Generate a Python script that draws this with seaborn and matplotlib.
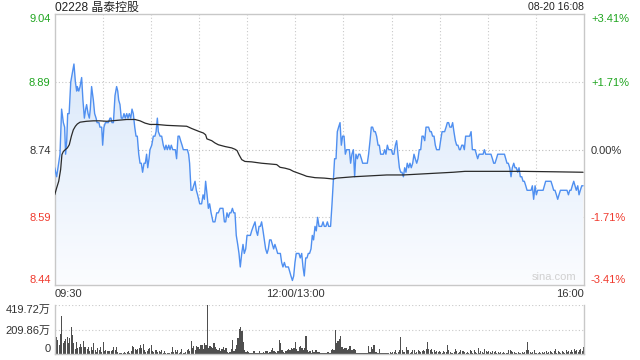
import numpy as np
import pandas as pd
import matplotlib
matplotlib.use("Agg")
import matplotlib.pyplot as plt
import seaborn as sns
from matplotlib.patches import PathPatch

# ---------------- data ----------------
title = "02228 晶泰控股"
stamp = "08-20 16:08"
prev_close = 8.74
price_ticks = [8.44, 8.59, 8.74, 8.89, 9.04]
pct_labels = ["-3.41%", "-1.71%", "0.00%", "+1.71%", "+3.41%"]
vol_ticks = [0, 209.86, 419.72]
vol_labels = ["0", "209.86万", "419.72万"]
time_labels = ["09:30", "12:00/13:00", "16:00"]
time_label_pos = [0, 150, 330]

price_min = [
    0.0, 1.2, 2.5, 3.3, 4.3, 5.4, 6.2, 6.8, 7.5, 8.1, 9.0, 10.0, 11.0, 12.0, 12.9, 13.7, 14.1, 15.0, 15.8, 16.8,
    17.6, 18.5, 19.3, 19.9, 20.8, 21.6, 22.2, 23.0, 24.1, 24.9, 25.8, 26.4, 27.0, 27.6, 28.2, 29.3, 29.9, 30.7,
    31.6, 32.4, 33.4, 34.5, 35.1, 35.7, 36.6, 37.6, 38.6, 39.3, 39.9, 40.7, 41.5, 42.4, 43.2, 44.0, 44.9, 45.7,
    46.5, 47.4, 48.2, 49.0, 49.9, 50.7, 51.5, 52.4, 53.2, 54.0, 54.8, 55.7, 56.5, 57.3, 58.0, 58.8, 59.4, 60.5,
    61.5, 62.5, 63.2, 64.0, 64.6, 65.7, 66.7, 67.7, 68.6, 69.4, 70.2, 71.1, 71.9, 72.7, 73.6, 74.4, 75.2, 76.0,
    76.9, 77.7, 78.5, 79.4, 80.2, 81.0, 81.9, 82.7, 83.5, 84.1,
    85.0, 85.8, 86.6, 87.5, 88.3, 89.1, 90.4, 91.6, 92.5, 93.3, 94.1, 95.0, 95.8, 96.6, 97.5, 98.7, 99.9, 101.0,
    102.0, 103.1, 104.1, 104.9, 105.8, 106.6, 107.4, 108.3, 109.1, 109.9, 110.8, 111.6, 112.4, 113.2, 114.1,
    114.9, 115.7, 116.6, 117.4, 118.2, 119.1, 119.9, 120.7, 122.0, 122.8, 123.8, 124.9, 125.7, 126.5, 127.4,
    128.2, 129.0, 129.9, 130.7, 131.5, 132.4, 133.2, 134.0, 134.9, 135.7, 136.5, 137.3, 138.2, 139.0, 139.8,
    140.7, 141.5, 142.3, 143.2, 144.0, 144.8, 145.7, 146.5, 147.3, 148.2, 149.0, 149.8, 150.6, 151.5, 152.3,
    153.1, 154.0, 154.8, 155.6, 156.5, 157.3, 158.1, 158.9, 159.8, 160.6, 161.4, 162.3, 163.1, 163.9, 164.8,
    165.6, 166.4, 167.3, 168.1,
    169.1, 170.0, 170.8, 172.0, 172.9, 173.7, 174.5, 175.4, 176.2, 177.0, 177.9, 178.7, 179.5, 180.4, 181.2,
    182.0, 182.9, 183.7, 184.5, 185.3, 186.2, 187.0, 187.8, 188.7, 189.5, 190.3, 191.2, 192.0, 193.7, 194.9,
    195.7, 196.6, 197.4, 198.2, 199.1, 199.9, 200.7, 201.6, 202.4, 203.2, 204.1, 204.9, 205.7, 206.5, 207.4,
    208.2, 209.0, 209.9, 210.7, 211.5, 212.4, 213.2, 214.0, 214.9, 215.7, 216.5, 217.4, 218.2, 219.0, 219.8,
    220.7, 221.5, 222.3, 223.2, 224.0, 224.8, 225.7, 226.5, 227.3, 228.2, 229.0, 229.8, 230.7, 231.5, 232.3,
    233.1, 234.0, 234.8, 235.6, 236.5, 237.3, 238.1, 239.0, 239.8, 240.6, 241.5, 242.3, 243.1, 244.0, 244.8,
    245.6, 246.4, 247.3, 248.1, 248.9, 249.8, 250.6, 251.4, 252.3,
    252.9, 253.8, 254.6, 255.4, 256.2, 257.1, 257.9, 258.7, 259.6, 260.4, 261.2, 262.1, 262.9, 263.7, 264.6,
    265.4, 266.2, 267.1, 267.9, 268.7, 269.5, 270.4, 271.2, 272.0, 272.9, 273.7, 274.5, 275.4, 276.2, 277.0,
    277.9, 278.7, 279.5, 280.4, 281.2, 282.0, 282.8, 283.7, 284.5, 285.3, 286.2, 287.0, 287.8, 288.7, 289.5,
    290.3, 291.2, 292.0, 292.8, 293.7, 294.5, 295.3, 296.1, 297.0, 297.8, 298.6, 299.5, 300.3, 301.1, 302.0,
    302.8, 303.6, 304.5, 305.3, 306.1, 307.0, 307.8, 308.6, 309.4, 310.3, 311.1, 311.9, 312.8, 313.6, 314.4,
    315.3, 316.1, 316.9, 317.8, 318.6, 319.4, 320.3, 321.1, 321.9, 322.7, 323.6, 324.4, 325.2, 326.1, 326.9,
    327.7, 328.6, 329.4,
]
price_val = [
    8.70, 8.68, 8.71, 8.73, 8.83, 8.80, 8.79, 8.73, 8.76, 8.82, 8.82, 8.89, 8.91, 8.93, 8.89, 8.87, 8.88, 8.87, 8.88, 8.90,
    8.85, 8.81, 8.83, 8.84, 8.82, 8.81, 8.83, 8.88, 8.85, 8.82, 8.81, 8.80, 8.80, 8.80, 8.79, 8.79, 8.75, 8.79,
    8.80, 8.80, 8.80, 8.81, 8.81, 8.80, 8.80, 8.86, 8.88, 8.87, 8.85, 8.84, 8.81, 8.81, 8.82, 8.81, 8.82, 8.81,
    8.82, 8.81, 8.83, 8.82, 8.79, 8.77, 8.77, 8.73, 8.71, 8.71, 8.69, 8.71, 8.71, 8.73, 8.70, 8.72, 8.74, 8.75,
    8.77, 8.77, 8.78, 8.81, 8.78, 8.77, 8.77, 8.75, 8.74, 8.75, 8.74, 8.75, 8.74, 8.75, 8.74, 8.74, 8.74, 8.72,
    8.77, 8.77, 8.76, 8.75, 8.74, 8.74, 8.74, 8.74, 8.73, 8.71,
    8.65, 8.65, 8.66, 8.67, 8.65, 8.64, 8.62, 8.62, 8.64, 8.63, 8.67, 8.64, 8.61, 8.62, 8.60, 8.58, 8.58, 8.60,
    8.60, 8.61, 8.61, 8.61, 8.58, 8.58, 8.60, 8.59, 8.60, 8.60, 8.61, 8.60, 8.60, 8.55, 8.53,
    8.51, 8.48, 8.51, 8.53, 8.51, 8.52, 8.55, 8.55, 8.55, 8.56, 8.57, 8.58, 8.56, 8.55, 8.57,
    8.57, 8.58, 8.56, 8.54, 8.52, 8.51, 8.52, 8.54, 8.54, 8.53, 8.52, 8.53, 8.52, 8.51, 8.51,
    8.51, 8.49, 8.48, 8.49, 8.48, 8.48, 8.48, 8.47, 8.46, 8.45, 8.46, 8.49, 8.51, 8.51, 8.51,
    8.50, 8.51, 8.48, 8.46, 8.50, 8.50, 8.51, 8.51, 8.52, 8.55, 8.54, 8.57, 8.56, 8.59, 8.57,
    8.57, 8.57, 8.58, 8.57,
    8.57, 8.58, 8.57, 8.57, 8.62, 8.67, 8.72, 8.72, 8.78, 8.79, 8.80, 8.75, 8.77, 8.77, 8.73,
    8.74, 8.74, 8.74, 8.71, 8.73, 8.74, 8.68, 8.73, 8.72, 8.73, 8.73, 8.72, 8.71, 8.71, 8.71,
    8.73, 8.76, 8.79, 8.79, 8.78, 8.78, 8.77, 8.75, 8.75, 8.73, 8.73, 8.73, 8.74, 8.73, 8.75,
    8.74, 8.74, 8.74, 8.73, 8.73, 8.75, 8.76, 8.73, 8.70, 8.69, 8.69, 8.68, 8.70, 8.69, 8.71,
    8.70, 8.71, 8.70, 8.71, 8.73, 8.72, 8.71, 8.72, 8.74, 8.74, 8.77, 8.77, 8.76, 8.79, 8.79,
    8.79, 8.78, 8.78, 8.77, 8.77, 8.75, 8.74, 8.74, 8.74, 8.76, 8.78, 8.78, 8.78, 8.79, 8.80,
    8.80, 8.79, 8.79, 8.80, 8.78, 8.76, 8.75, 8.75, 8.74,
    8.74, 8.75, 8.75, 8.74, 8.77, 8.77, 8.77, 8.77, 8.78, 8.74, 8.74, 8.74, 8.73, 8.72, 8.73,
    8.73, 8.73, 8.73, 8.74, 8.73, 8.73, 8.73, 8.73, 8.73, 8.72, 8.71, 8.71, 8.72, 8.73, 8.73,
    8.73, 8.73, 8.73, 8.73, 8.72, 8.71, 8.71, 8.70, 8.68, 8.70, 8.71, 8.70, 8.70, 8.69, 8.70,
    8.68, 8.68, 8.67, 8.67, 8.66, 8.65, 8.65, 8.65, 8.65, 8.66, 8.63, 8.66, 8.64, 8.65, 8.65,
    8.65, 8.65, 8.65, 8.66, 8.67, 8.67, 8.67, 8.67, 8.67, 8.66, 8.65, 8.65, 8.64, 8.63, 8.64,
    8.65, 8.65, 8.65, 8.65, 8.65, 8.65, 8.64, 8.65, 8.65, 8.66, 8.67, 8.66, 8.65, 8.66, 8.64,
    8.65, 8.66, 8.66,
]

avg_min = [0.0, 1.2, 2.5, 3.7, 4.5, 5.4, 6.6, 7.9, 9.1, 10.4, 11.6, 12.9, 14.1, 15.8, 17.8, 19.9, 24.1, 28.2,
           32.4, 38.6, 44.9, 50.1, 53.2, 56.3, 59.4, 63.6, 69.8, 76.0, 82.3, 85.4, 89.6, 92.7, 94.1, 94.9,
           97.9, 99.9, 102.0, 106.2, 110.3, 112.4, 113.7, 114.9, 116.6, 118.6, 122.8, 129.0, 135.3, 138.4,
           140.5, 143.6, 146.7, 148.8, 151.9, 155.0, 157.1, 162.3, 168.1, 173.7, 175.8, 186.2, 196.6, 207.0,
           217.4, 227.7, 238.1, 248.5, 255.8, 270.4, 291.2, 311.9, 329.4]
avg_val = [8.640, 8.655, 8.670, 8.696, 8.729, 8.736, 8.740, 8.744, 8.751, 8.770, 8.784, 8.792, 8.797, 8.801,
           8.802, 8.803, 8.804, 8.804, 8.803, 8.805, 8.807, 8.807, 8.804, 8.799, 8.796, 8.796, 8.794, 8.793,
           8.792, 8.787, 8.781, 8.777, 8.773, 8.764, 8.760, 8.755, 8.751, 8.747, 8.744, 8.741, 8.738, 8.729,
           8.718, 8.714, 8.713, 8.710, 8.708, 8.707, 8.701, 8.699, 8.696, 8.692, 8.688, 8.684, 8.681, 8.678,
           8.677, 8.675, 8.677, 8.680, 8.682, 8.684, 8.684, 8.686, 8.688, 8.690, 8.692, 8.692, 8.692, 8.691,
           8.690]

# volume in 万 shares, bars from 09:30 to 16:00
volume = [
    248, 143, 120, 77, 171, 325, 97, 114, 131, 143, 97, 134, 228, 166, 97, 40, 103, 49, 63, 86,
    63, 108, 63, 57, 40, 63, 29, 57, 34, 91, 34, 17, 49, 34, 63, 20, 103, 29, 34, 29,
    29, 29, 29, 34, 63, 34, 63, 20, 11, 11, 11, 11, 20, 11, 20, 29, 11, 29, 69, 63,
    40, 34, 40, 49, 74, 49, 86, 34, 20, 29, 40, 49, 77, 29, 20, 34, 34, 20, 29, 20,
    34, 11, 29, 11, 11, 11, 11, 20, 63, 20, 34, 20, 34, 11, 20, 40, 11, 11, 20, 34,
    40, 29, 114, 49, 69, 34, 69, 63, 40, 77, 77, 40, 97, 77, 420, 49, 69, 57, 49, 91,
    63, 40, 34, 49, 29, 40, 63, 34, 49, 20, 11, 20, 40, 120, 29, 40, 77, 134, 211, 228,
    200, 106, 34, 17, 29, 20, 11, 11, 11, 29, 11, 11, 11, 29, 11, 11, 20, 11, 29, 29,
    11, 20, 34, 49, 29, 20, 11, 29, 120, 97, 34, 20, 11, 29, 34, 40, 34, 49, 40, 49,
    106, 40, 29, 63, 69, 49, 34, 49, 154, 34, 20, 29, 11, 34, 20, 34, 34, 20,
    20, 11, 6, 6, 11, 11, 20, 20, 6, 34, 40, 34, 206, 97, 114, 126, 154, 63, 40, 49,
    49, 34, 40, 69, 34, 34, 40, 34, 11, 11, 6, 11, 11, 6, 11, 11, 6, 69, 20, 57,
    40, 77, 20, 20, 11, 40, 11, 11, 6, 11, 11, 11, 11, 20, 11, 20, 20, 34, 11, 20,
    34, 148, 34, 20, 20, 63, 34, 34, 11, 20, 34, 34, 11, 20, 34, 29, 20, 29, 34, 29,
    40, 106, 40, 34, 40, 20, 34, 20, 29, 20, 29, 20, 11, 29, 20, 20, 77, 34, 20, 11,
    11, 20, 40, 29, 11, 20, 34, 29, 29, 20, 11, 20, 11, 34, 29, 11, 34, 20, 11, 49,
    11, 29, 20, 11, 40, 29, 20, 29, 20, 11, 29, 20, 29, 11, 20, 11, 20, 11, 20, 11,
    6, 11, 34, 34, 29, 20, 20, 11, 11, 20, 11, 11, 20, 11, 20, 34, 106, 34, 20, 11,
    20, 34, 6, 11, 6, 20, 11, 20, 11, 20, 29, 11, 20, 29, 20, 11, 29, 40, 11, 29,
    20, 11, 29, 20, 11, 34, 20, 29, 20, 34, 20, 40, 29, 34, 20, 34, 40, 29, 63,
]

# ---------------- style ----------------
sns.set_theme(style="white")
plt.rcParams["font.family"] = ["Liberation Sans", "Noto Sans CJK SC", "DejaVu Sans"]

GREEN = "#1fa51f"
RED = "#f03a2e"
DARK = "#333333"
GRID = "#c9c9c9"
SPINE = "#c8c8c8"
BLUE = "#4f8ff0"

fig = plt.figure(figsize=(6.4, 3.6), dpi=100)
ax = fig.add_axes([54.7 / 640, 75 / 360, 529.3 / 640, 270.6 / 360])
axv = fig.add_axes([54.7 / 640, 6 / 360, 529.3 / 640, 49 / 360])

ymin, ymax = price_ticks[0], price_ticks[-1]
ax.set_xlim(0, 330)
ax.set_ylim(ymin, ymax)

dfp = pd.DataFrame({"minute": price_min, "price": price_val})
dfa = pd.DataFrame({"minute": avg_min, "avg": avg_val})
dfv = pd.DataFrame({"minute": np.linspace(0.3, 329.7, len(volume)), "volume": volume})

# gradient fill below price line
poly = ax.fill_between(dfp["minute"], dfp["price"], ymin, color="none", lw=0)
path = poly.get_paths()[0]
patch = PathPatch(path, transform=ax.transData, facecolor="none", edgecolor="none")
ax.add_patch(patch)
top_c = np.array([0.855, 0.91, 0.98])
bot_c = np.array([0.985, 0.99, 1.0])
t = np.linspace(0, 1, 256)[:, None]
grad = (top_c * (1 - t) + bot_c * t)[:, None, :]
im = ax.imshow(grad, extent=[0, 330, ymin, 8.94], aspect="auto", origin="upper", zorder=1)
im.set_clip_path(patch)

sns.lineplot(data=dfp, x="minute", y="price", ax=ax, color=BLUE, lw=1.0,
             estimator=None, sort=False, zorder=3)
sns.lineplot(data=dfa, x="minute", y="avg", ax=ax, color="#2a2a2a", lw=0.9,
             estimator=None, sort=False, zorder=4)
ax.set_xlim(0, 330)
ax.set_ylim(ymin, ymax)
ax.set_xlabel("")
ax.set_ylabel("")

# grid
dot = (0, (1, 2))
for xv in range(30, 330, 30):
    ax.axvline(xv, color=GRID, lw=0.8, ls=dot, zorder=0.5)
for yv in price_ticks[1:-1]:
    ax.axhline(yv, color=GRID if yv != prev_close else "#bdbdbd", lw=0.8, ls=dot, zorder=0.5)

for s in ax.spines.values():
    s.set_color(SPINE)
    s.set_linewidth(1)

ax.set_yticks(price_ticks)
ax.set_yticklabels([f"{v:.2f}" for v in price_ticks])
colors = [RED, RED, DARK, GREEN, GREEN]
for lbl, c in zip(ax.get_yticklabels(), colors):
    lbl.set_color(c)
labels = ax.get_yticklabels()
labels[0].set_va("bottom")
labels[-1].set_va("top")
ax.tick_params(axis="y", length=0, pad=3, labelsize=8)

ax.set_xticks(time_label_pos)
ax.set_xticklabels(time_labels)
xl = ax.get_xticklabels()
xl[0].set_ha("left")
xl[-1].set_ha("right")
ax.tick_params(axis="x", length=0, pad=3, labelsize=8, labelcolor=DARK)

axr = ax.twinx()
axr.set_ylim(ymin, ymax)
axr.set_yticks(price_ticks)
axr.set_yticklabels(pct_labels)
for lbl, c in zip(axr.get_yticklabels(), colors):
    lbl.set_color(c)
rl = axr.get_yticklabels()
rl[0].set_va("bottom")
rl[-1].set_va("top")
axr.tick_params(axis="y", length=0, pad=5, labelsize=8)
axr.grid(False)
for s in axr.spines.values():
    s.set_visible(False)

ax.text(0.985, 0.012, "sina.com", transform=ax.transAxes, ha="right", va="bottom",
        fontsize=8, color="#d0d0d0", zorder=5)

# volume
axv.bar(dfv["minute"], dfv["volume"], width=0.7, color="#4f4f4f", linewidth=0)
axv.set_xlim(0, 330)
axv.set_ylim(0, vol_ticks[-1])
axv.set_xticks([])
axv.set_yticks(vol_ticks)
axv.set_yticklabels(vol_labels)
vl = axv.get_yticklabels()
vl[0].set_va("bottom")
vl[-1].set_va("top")
axv.tick_params(axis="y", length=0, pad=3, labelsize=8, labelcolor=DARK)
for yv in vol_ticks[1:]:
    axv.axhline(yv, color=GRID, lw=0.8, ls=dot, zorder=0)
for k, s in axv.spines.items():
    s.set_color(SPINE)
    s.set_linewidth(1)
axv.spines["top"].set_visible(False)

fig.text(55 / 640, 1 - 7.7 / 360, title, ha="left", va="center", fontsize=8.6, color="#222222")
fig.text(584 / 640, 1 - 7.5 / 360, stamp, ha="right", va="center", fontsize=7.6, color="#222222")

fig.savefig("out.png", dpi=100, facecolor="white")
